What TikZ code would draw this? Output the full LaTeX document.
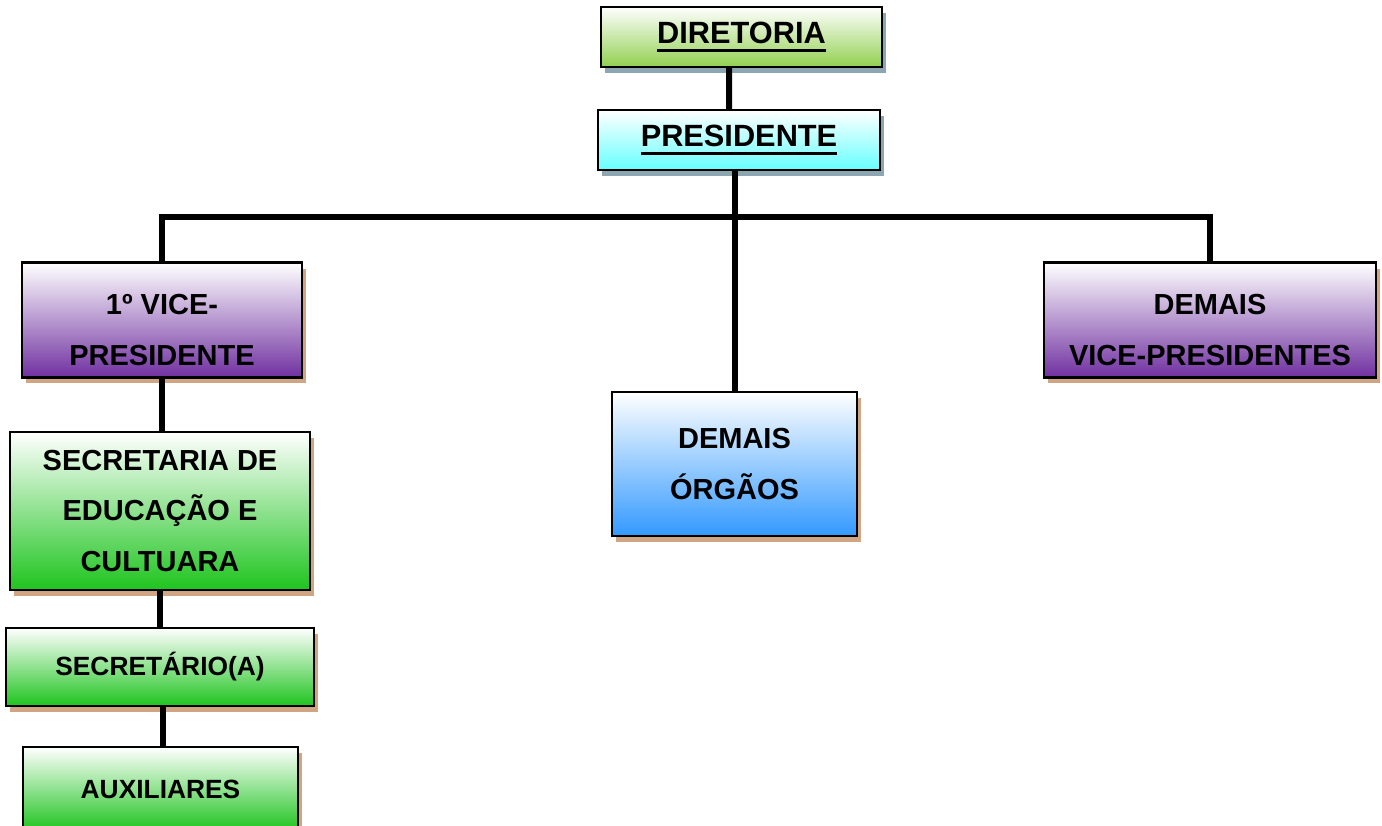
\documentclass[tikz,border=0pt]{standalone}
\usepackage{fontspec}
\setmainfont{Liberation Sans}
\usetikzlibrary{shadows}

\definecolor{verdeclaro}{HTML}{92D050}
\definecolor{ciano}{HTML}{66FFFF}
\definecolor{roxo}{HTML}{7030A0}
\definecolor{verde}{HTML}{1EC41E}
\definecolor{azul}{HTML}{3399FF}
\definecolor{sombratan}{HTML}{CFA583}
\definecolor{sombracinza}{HTML}{8CA6B2}

\newcommand{\sublinhado}[1]{\setbox0\hbox{#1}\leavevmode\rlap{\rule[-4.6pt]{\wd0}{1.5pt}}\box0}

\begin{document}
\begin{tikzpicture}[x=0.02cm, y=-0.02cm,
    caixa/.style={draw=black, line width=0.05cm, inner sep=0pt, align=center,
        font=\fontsize{16.5}{28.5}\selectfont\bfseries},
    sombra/.style={drop shadow={shadow xshift=0.08cm, shadow yshift=-0.12cm, fill=#1, opacity=1}},
    titulo/.style={caixa, sombra=sombracinza, font=\fontsize{17.5}{21}\selectfont\bfseries},
    menor/.style={font=\fontsize{15}{18}\selectfont\bfseries},
    textovice/.style={font=\fontsize{16.5}{28.5}\selectfont\bfseries, align=center, yshift=-0.2cm},
    conector/.style={line width=0.12cm}]
    % Page
    \useasboundingbox (0,0) rectangle (1382,825);

    % Top
    \node[titulo, top color=white, bottom color=verdeclaro, minimum width=5.62cm, minimum height=1.2cm] (dir) at (741.5,37) {\sublinhado{DIRETORIA}};
    \node[titulo, top color=white, bottom color=ciano, minimum width=5.64cm, minimum height=1.2cm] (pres) at (739,140) {\sublinhado{PRESIDENTE}};

    % Second level
    \node[caixa, sombra=sombratan, top color=white, bottom color=roxo, minimum width=5.6cm, minimum height=2.3cm,
        label={[textovice]center:1º VICE-\\PRESIDENTE}] (vice1) at (162,320) {};
    \node[caixa, sombra=sombratan, top color=white, bottom color=azul, minimum width=4.9cm, minimum height=2.88cm] (org) at (734.5,464) {DEMAIS\\ÓRGÃOS};
    \node[caixa, sombra=sombratan, top color=white, bottom color=roxo, minimum width=6.64cm, minimum height=2.3cm,
        label={[textovice]center:DEMAIS\\VICE-PRESIDENTES}] (dvice) at (1210,320) {};

    % Left column
    \node[caixa, sombra=sombratan, top color=white, bottom color=verde, minimum width=6cm, minimum height=3.16cm] (sec) at (160,511) {SECRETARIA DE\\EDUCAÇÃO E\\CULTUARA};
    \node[caixa, menor, sombra=sombratan, top color=white, bottom color=verde, minimum width=6.16cm, minimum height=1.56cm] (secr) at (160,667) {SECRETÁRIO(A)};
    \node[caixa, menor, sombra=sombratan, top color=white, bottom color=verde, minimum width=5.5cm, minimum height=1.68cm] (aux) at (160.5,789) {AUXILIARES};

    % Connectors
    \coordinate (barra) at (734.5,217);
    \draw[conector] ([xshift=-0.25cm]dir.south) -- ([xshift=-0.2cm]pres.north);
    \draw[conector] (pres.south -| org.north) -- (org.north);
    \draw[conector] (vice1.north) |- (barra) -| (dvice.north);
    \draw[conector] (vice1.south) -- (vice1.south |- sec.north);
    \draw[conector] (sec.south) -- (secr.north);
    \draw[conector] ([xshift=0.06cm]secr.south) -- ([xshift=0.06cm]secr.south |- aux.north);
\end{tikzpicture}
\end{document}
